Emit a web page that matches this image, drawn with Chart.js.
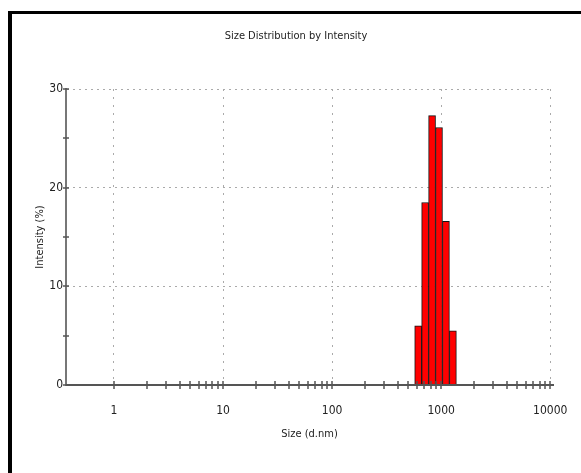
<!DOCTYPE html>
<html>
<head>
<meta charset="utf-8">
<script src="https://cdn.jsdelivr.net/npm/chart.js@4"></script>
<style>
  html, body { margin: 0; padding: 0; background: #fff; }
</style>
</head>
<body>
<canvas id="sizeChart" width="581" height="473"></canvas>
<script>
// size classes (d.nm) and intensity (%) of the measured peak
const sizes = [615.1, 712.4, 825.0, 955.4, 1106, 1281];
const intensity = [6.0, 18.5, 27.3, 26.1, 16.6, 5.5];

const xTicks = [1, 10, 100, 1000, 10000];
const xMinorTicks = [1, 10, 100, 1000].flatMap(d => [2, 3, 4, 5, 6, 7, 8, 9].map(m => m * d));
const yTicks = [0, 10, 20, 30];
const yMinorTicks = [5, 15, 25];

const FONT = '"DejaVu Sans Condensed", "Liberation Sans Narrow", sans-serif';
const TEXT = "#222";

// frame, axis line over the bar bases and the little cross ticks
const axisMarks = {
  id: "axisMarks",
  beforeDraw(chart) {
    const ctx = chart.ctx;
    ctx.save();
    ctx.fillStyle = "#000";
    ctx.fillRect(8, 11, 573, 3);
    ctx.fillRect(8, 11, 4, 462);
    ctx.restore();
  },
  afterDatasetsDraw(chart) {
    const { ctx, chartArea, scales: { x, y } } = chart;
    ctx.save();
    ctx.strokeStyle = "#555";
    ctx.lineWidth = 2;
    ctx.beginPath();
    ctx.moveTo(chartArea.left, chartArea.bottom);
    ctx.lineTo(chartArea.right, chartArea.bottom);
    ctx.stroke();

    ctx.lineWidth = 1.5;
    ctx.beginPath();
    for (const v of xTicks.concat(xMinorTicks)) {
      const px = Math.round(x.getPixelForValue(v));
      ctx.moveTo(px, chartArea.bottom - 4);
      ctx.lineTo(px, chartArea.bottom + 4);
    }
    for (const v of yTicks.concat(yMinorTicks)) {
      const py = Math.round(y.getPixelForValue(v));
      ctx.moveTo(chartArea.left - 3, py);
      ctx.lineTo(chartArea.left + 3, py);
    }
    ctx.stroke();
    ctx.restore();
  }
};

new Chart(document.getElementById("sizeChart"), {
  type: "bar",
  data: {
    datasets: [{
      data: sizes.map((s, i) => ({ x: s, y: intensity[i] })),
      backgroundColor: "#ff0000",
      borderColor: "#111",
      borderWidth: 1,
      categoryPercentage: 1,
      barPercentage: 1
    }]
  },
  options: {
    responsive: false,
    animation: false,
    devicePixelRatio: 1,
    layout: { padding: { left: 39, right: 28, top: 0, bottom: 0 } },
    plugins: {
      legend: { display: false },
      tooltip: { enabled: false },
      title: {
        display: true,
        text: "Size Distribution by Intensity",
        color: TEXT,
        font: { family: FONT, size: 11, weight: "normal" },
        padding: { top: 29.5, bottom: 46.3 }
      }
    },
    scales: {
      x: {
        type: "logarithmic",
        min: 0.363,
        max: 10600,
        bounds: "data",
        offset: false,
        afterBuildTicks: s => { s.ticks = xTicks.map(v => ({ value: v })); },
        afterFit: s => { s.height = 88; },
        // invisible tick marks just push the labels down
        grid: {
          offset: false,
          color: "#aaa",
          lineWidth: 1,
          drawTicks: true,
          tickLength: 16,
          tickColor: "rgba(0,0,0,0)"
        },
        border: { color: "#555", width: 2, dash: [2, 6] },
        ticks: {
          callback: v => String(v),
          color: TEXT,
          font: { family: FONT, size: 12 },
          padding: 3,
          maxRotation: 0,
          autoSkip: false
        },
        title: {
          display: true,
          text: "Size (d.nm)",
          color: TEXT,
          font: { family: FONT, size: 11 },
          padding: { top: 0, bottom: 32 }
        }
      },
      y: {
        min: 0,
        max: 30,
        afterBuildTicks: s => { s.ticks = yTicks.map(v => ({ value: v })); },
        afterFit: s => { s.width = 27; },
        grid: {
          color: c => (c.tick && c.tick.value === 0 ? "rgba(0,0,0,0)" : "#aaa"),
          lineWidth: 1,
          drawTicks: false
        },
        border: { color: "#777", width: 2, dash: [2, 4] },
        ticks: { color: TEXT, font: { family: FONT, size: 12 }, padding: 3 },
        title: {
          display: true,
          text: "Intensity (%)",
          color: TEXT,
          font: { family: FONT, size: 11 },
          padding: { top: -5, bottom: 0 }
        }
      }
    }
  },
  plugins: [axisMarks]
});
</script>
</body>
</html>
